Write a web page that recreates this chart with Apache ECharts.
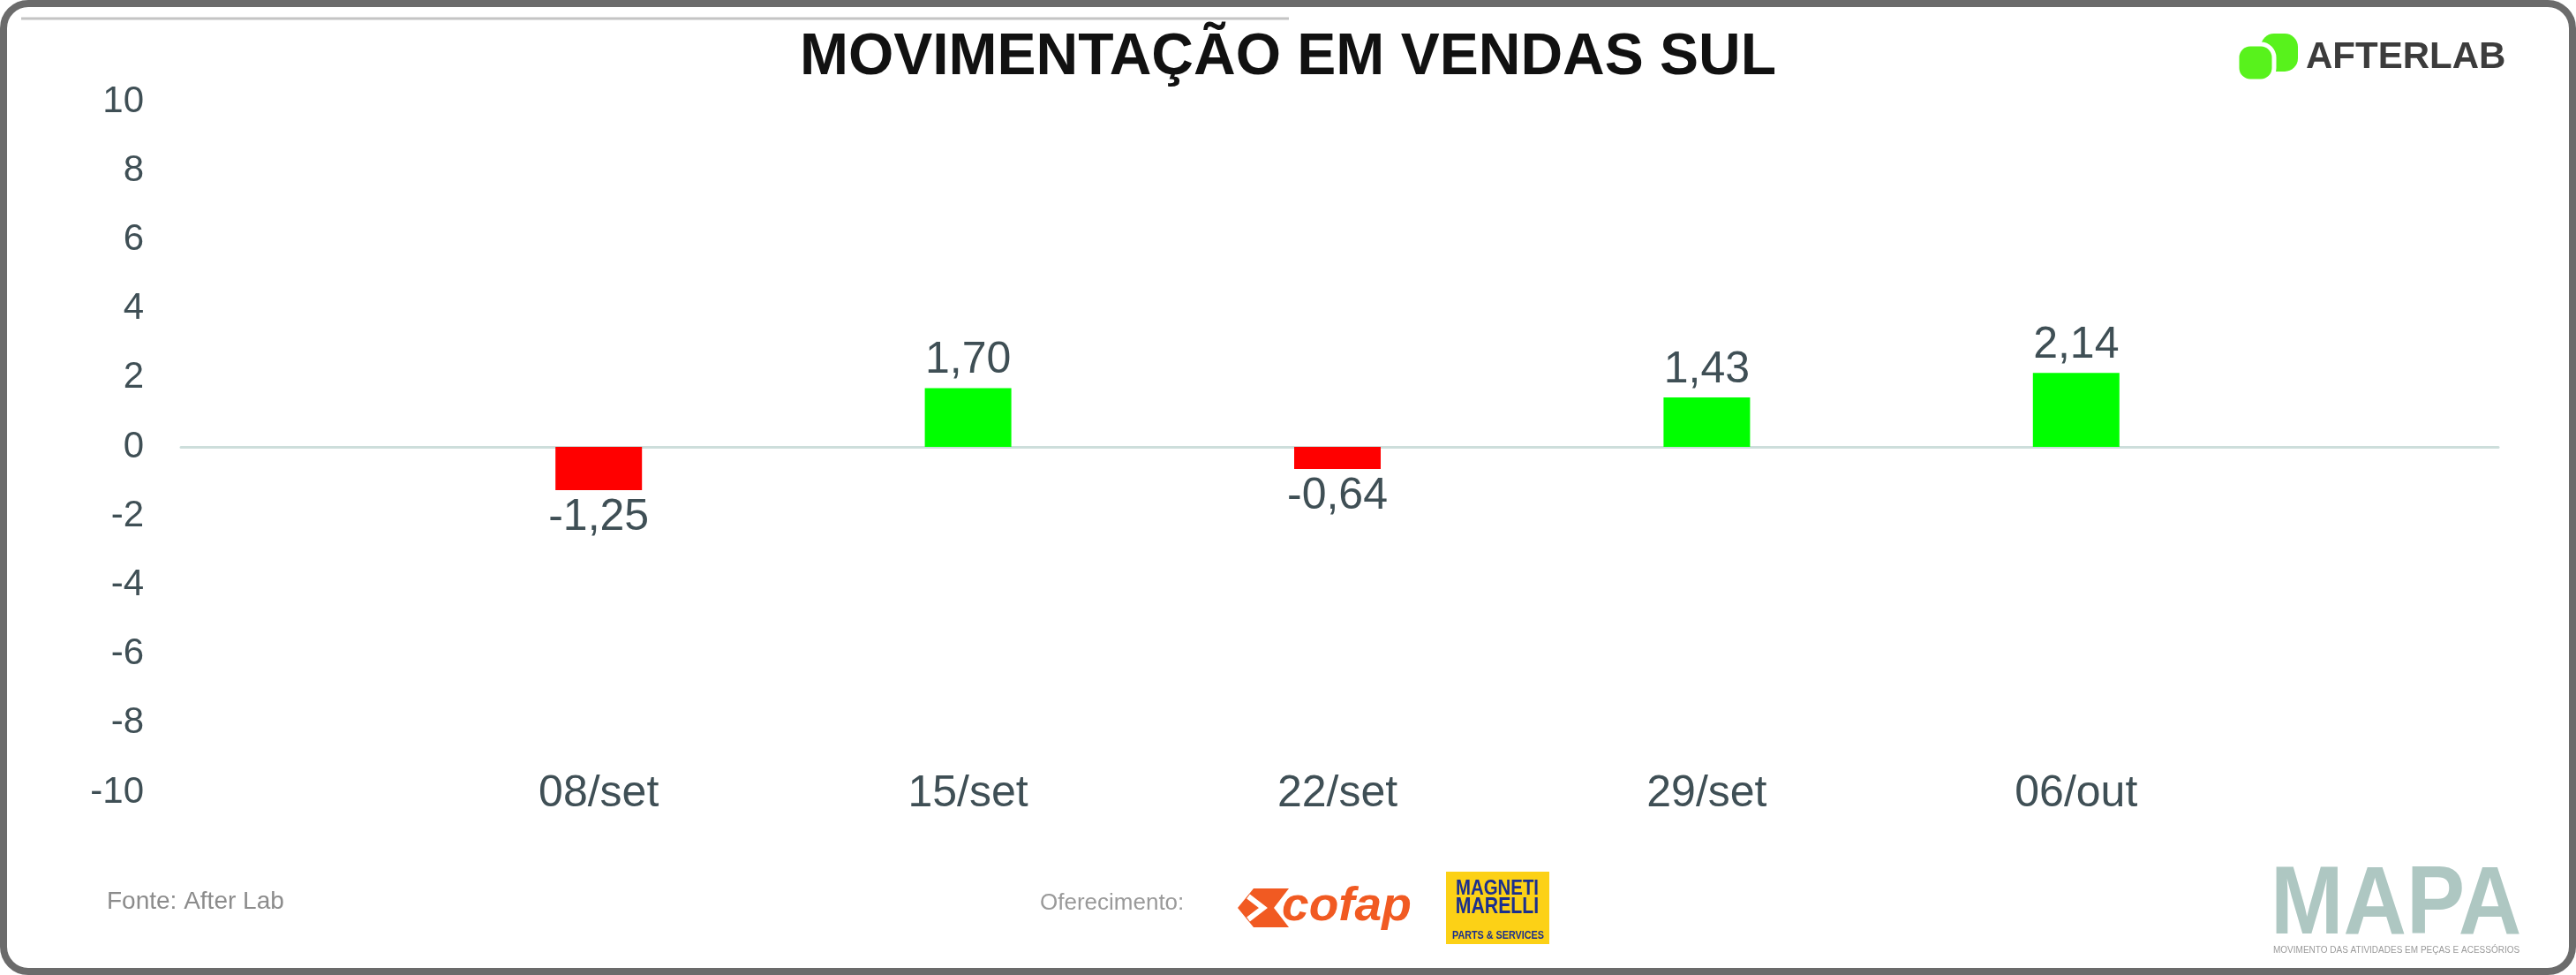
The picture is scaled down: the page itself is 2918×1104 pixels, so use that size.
<!DOCTYPE html>
<html><head><meta charset="utf-8">
<script src="https://cdn.jsdelivr.net/npm/echarts/dist/echarts.min.js"></script>
<style>html,body{margin:0;padding:0;background:#fff;}#c{width:2918px;height:1104px;}</style>
</head><body><div id="c"></div>
<script>
// ---- data ----
const categories = ['08/set', '15/set', '22/set', '29/set', '06/out'];
const values = [-1.25, 1.70, -0.64, 1.43, 2.14];
const yMin = -10, yMax = 10, yStep = 2;
const titleText = 'MOVIMENTAÇÃO EM VENDAS SUL';
const sourceText = 'Fonte: After Lab';
const sponsorText = 'Oferecimento:';

const FONT = '"Liberation Sans", Arial, sans-serif';
const TXT = '#3f4f55';
const POS = '#00FF00', NEG = '#FF0000';

const chart = echarts.init(document.getElementById('c'), null, {renderer: 'canvas'});

const fmt = v => v.toFixed(2).replace('.', ',');

const option = {
  animation: false,
  backgroundColor: '#ffffff',
  textStyle: {fontFamily: FONT},
  title: {
    text: titleText, left: 'center', top: 28,
    textStyle: {fontSize: 66, fontWeight: 'bold', color: '#111111', fontFamily: FONT}
  },
  grid: [
    {left: 205, right: 88, top: 115, bottom: 207},
    {left: 469, right: 357, top: 115, bottom: 207}
  ],
  xAxis: [
    {type: 'value', gridIndex: 0, min: 0, max: 1,
     axisLine: {show: true, onZero: true, lineStyle: {color: '#cddedb', width: 3}},
     axisTick: {show: false}, axisLabel: {show: false}, splitLine: {show: false}},
    {type: 'category', gridIndex: 1, data: categories, boundaryGap: true,
     axisLine: {show: false}, axisTick: {show: false}, splitLine: {show: false},
     axisLabel: {fontSize: 50, color: TXT, verticalAlign: 'middle', margin: 2, fontFamily: FONT}}
  ],
  yAxis: [
    {type: 'value', gridIndex: 0, min: yMin, max: yMax, interval: yStep,
     axisLine: {show: false}, axisTick: {show: false}, splitLine: {show: false},
     axisLabel: {fontSize: 42, color: TXT, margin: 42, fontFamily: FONT}},
    {type: 'value', gridIndex: 1, min: yMin, max: yMax, interval: yStep, show: false}
  ],
  series: [{
    type: 'bar', xAxisIndex: 1, yAxisIndex: 1, barWidth: 98,
    data: values.map(v => ({
      value: v,
      itemStyle: {color: v < 0 ? NEG : POS},
      label: {position: v < 0 ? 'bottom' : 'top'}
    })),
    label: {show: true, fontSize: 50, color: TXT, distance: 6, fontFamily: FONT,
            formatter: p => fmt(p.value)}
  }],
  graphic: [
    // frame
    {type: 'rect', shape: {x: 4, y: 4, width: 2910, height: 1096, r: 28},
     style: {fill: 'none', stroke: '#6b6b6b', lineWidth: 8}, silent: true, z: 100},
    {type: 'line', shape: {x1: 24, y1: 21, x2: 1460, y2: 21},
     style: {stroke: '#c4c4c4', lineWidth: 3}, silent: true},
    // AFTERLAB logo
    {type: 'rect', shape: {x: 2561, y: 38, width: 42, height: 43, r: 15},
     style: {fill: '#58f21c'}},
    {type: 'rect', shape: {x: 2534, y: 50, width: 42, height: 42, r: 15},
     style: {fill: '#58f21c', stroke: '#ffffff', lineWidth: 5}},
    {type: 'text', x: 2612, y: 65,
     style: {text: 'AFTERLAB', fontSize: 42, fontWeight: 'bold', fill: '#3c3c3c',
             fontFamily: FONT, verticalAlign: 'middle'}},
    // source
    {type: 'text', x: 121, y: 1021,
     style: {text: sourceText, fontSize: 28, fill: '#8c8c8c', fontFamily: FONT, verticalAlign: 'middle'}},
    {type: 'text', x: 1178, y: 1023,
     style: {text: sponsorText, fontSize: 26, fill: '#9a9a9a', fontFamily: FONT, verticalAlign: 'middle'}},
    // cofap
    {type: 'polygon', shape: {points: [[1420, 1006], [1460, 1006], [1443, 1028], [1460, 1050], [1420, 1050], [1402, 1028]]},
     style: {fill: '#f15a22'}},
    {type: 'polyline', shape: {points: [[1414, 1015], [1431, 1028], [1414, 1041]]},
     style: {stroke: '#ffffff', lineWidth: 6, fill: 'none'}},
    {type: 'text', x: 1452, y: 1027, scaleX: 1.02,
     style: {text: 'cofap', fontSize: 54, fontWeight: 'bold', fontStyle: 'italic', fill: '#f15a22',
             fontFamily: FONT, verticalAlign: 'middle'}},
    // Magneti Marelli
    {type: 'rect', shape: {x: 1638, y: 987, width: 117, height: 82}, style: {fill: '#fcd116'}},
    {type: 'text', x: 1696, y: 1006, scaleX: 0.85,
     style: {text: 'MAGNETI', fontSize: 24, fontWeight: 'bold', fill: '#1b2f8e', fontFamily: FONT,
             align: 'center', verticalAlign: 'middle'}},
    {type: 'text', x: 1696, y: 1027, scaleX: 0.85,
     style: {text: 'MARELLI', fontSize: 25, fontWeight: 'bold', fill: '#1b2f8e', fontFamily: FONT,
             align: 'center', verticalAlign: 'middle'}},
    {type: 'text', x: 1697, y: 1060, scaleX: 0.9,
     style: {text: 'PARTS & SERVICES', fontSize: 12, fontWeight: 'bold', fill: '#1b2f8e', fontFamily: FONT,
             align: 'center', verticalAlign: 'middle'}},
    // MAPA
    {type: 'text', x: 2572, y: 1027, scaleX: 0.9,
     style: {text: 'MAPA', fontSize: 110, fontWeight: 'bold', fill: '#aec7c2', fontFamily: FONT,
             verticalAlign: 'middle'}},
    {type: 'text', x: 2575, y: 1076,
     style: {text: 'MOVIMENTO DAS ATIVIDADES EM PEÇAS E ACESSÓRIOS', fontSize: 10, fill: '#9a9a9a',
             fontFamily: FONT, verticalAlign: 'middle'}}
  ]
};
chart.setOption(option);
</script>
</body></html>
